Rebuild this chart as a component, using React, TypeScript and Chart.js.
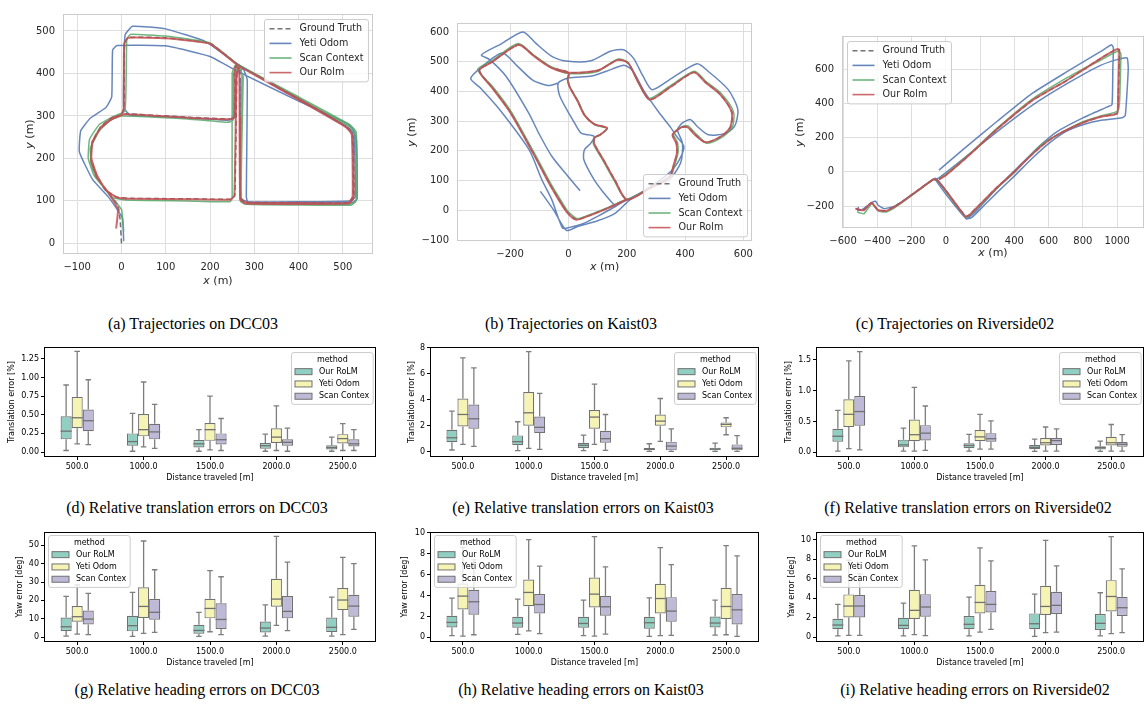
import React, { useEffect, useRef } from "react";
import { Chart, registerables } from "chart.js";
Chart.register(...registerables);

// ---------------- DATA ----------------
const TRAJ_SERIES = ["Ground Truth", "Yeti Odom", "Scan Context", "Our Rolm"];
const METHODS = ["Our RoLM", "Yeti Odom", "Scan Contex"];
const DISTANCES = ["500.0", "1000.0", "1500.0", "2000.0", "2500.0"];

// tick values
const dccXTicks = [-100, 0, 100, 200, 300, 400, 500];
const dccYTicks = [0, 100, 200, 300, 400, 500];
const kaistXTicks = [-200, 0, 200, 400, 600];
const kaistYTicks = [-100, 0, 100, 200, 300, 400, 500, 600];
const riverXTicks = [-600, -400, -200, 0, 200, 400, 600, 800, 1000];
const riverYTicks = [-200, 0, 200, 400, 600];

// DCC03 trajectories [x, y]
const dccGT = [[0,0],[-3,55],[-8,90],[-32,122],[-57,157],[-69,197],[-66,237],[-49,270],[-24,291],[1,304],[6,320],[7,471],[16,485],[100,484],[200,471],[263,421],[400,339],[506,276],[521,258],[523,110],[513,96],[400,96],[280,97],[269,108],[267,405],[259,418],[256,400],[256,298],[246,293],[150,297],[10,305],[-20,297],[-46,276],[-66,240],[-69,200],[-56,160],[-36,125],[-11,109],[20,106],[150,105],[246,104],[256,113],[261,400],[269,416],[401,340],[511,273],[523,253],[525,108],[515,95],[280,95],[269,105],[269,300]];
const dccYeti = [[5,5],[2,60],[-30,110],[-65,150],[-95,215],[-92,265],[-70,295],[-35,320],[-22,345],[-20,455],[-10,466],[100,465],[200,440],[262,405],[400,335],[510,282],[525,265],[528,110],[518,100],[400,98],[285,98],[282,110],[284,385],[275,410],[260,400],[255,295],[240,290],[150,296],[20,302],[5,320],[8,490],[25,511],[100,505],[190,475],[265,420],[400,340],[515,270],[530,250],[532,105],[520,95],[300,95],[270,105],[268,390]];
const dccScan = [[5,28],[0,80],[-35,125],[-62,160],[-75,200],[-72,245],[-50,280],[-20,298],[8,312],[12,480],[20,492],[100,488],[200,472],[265,420],[400,345],[515,280],[530,262],[532,105],[520,92],[400,92],[278,93],[268,100],[272,400],[265,415],[252,395],[252,290],[240,285],[150,293],[0,300],[-25,290],[-50,265],[-70,225],[-68,185],[-50,145],[-20,108],[10,102],[150,100],[245,98],[250,105],[250,400],[258,420],[400,343],[515,275],[528,258],[530,100],[518,90],[280,92],[270,100],[275,395]];
const dccRolm = [[-12,35],[-8,80],[-30,120],[-55,155],[-68,195],[-66,235],[-50,268],[-25,290],[0,303],[5,318],[6,470],[15,484],[100,483],[200,470],[262,420],[400,338],[505,275],[520,258],[522,110],[512,95],[400,95],[280,96],[268,108],[266,405],[258,418],[255,400],[255,298],[245,292],[150,296],[10,304],[-20,296],[-45,275],[-65,240],[-68,200],[-55,160],[-35,125],[-10,108],[20,105],[150,104],[245,103],[255,112],[260,400],[268,415],[400,340],[510,272],[522,252],[524,108],[514,94],[280,94],[268,104],[268,300]];

// Kaist03 trajectories
const kaistGT = [[-9,1],[-59,81],[-119,191],[-199,331],[-259,411],[-305,471],[-259,501],[-170,557],[-119,521],[-59,481],[1,463],[-2,440],[5,415],[31,370],[56,320],[89,290],[133,277],[110,255],[90,245],[88,225],[120,170],[160,100],[200,37],[280,76],[348,115],[361,150],[373,193],[371,225],[358,254],[386,278],[409,280],[431,258],[471,229],[526,250],[556,280],[561,330],[521,390],[471,430],[431,464],[350,415],[279,373],[240,430],[205,495],[170,506],[100,470],[1,463],[-59,481],[-119,521],[-170,557],[-259,501],[-305,471],[-259,411],[-199,331],[-119,191],[-59,81],[-9,1],[25,-30],[60,-21],[130,6],[200,37]];
const kaistYeti = [[-96,64],[-50,0],[-7,-67],[30,-55],[100,-35],[160,-10],[212,36],[300,85],[346,103],[385,160],[391,226],[374,271],[391,294],[419,305],[441,283],[480,254],[536,258],[570,283],[581,339],[548,406],[480,467],[441,493],[346,439],[287,406],[256,451],[223,512],[189,540],[144,535],[77,503],[0,501],[-57,518],[-113,563],[-156,600],[-230,560],[-298,523],[-270,507],[-214,451],[-136,327],[-102,260],[-57,182],[-1,114],[40,66],null,[161,13],[120,60],[88,103],[53,170],[55,204],[77,226],[88,249],[44,260],[21,294],[-29,383],[-35,428],[0,445],[80,452],[150,475],[190,488],[220,470],[260,400],[310,330],[350,280],[370,250],[396,215],[380,170],[346,126],[256,64],[190,30],[161,13],[100,-20],[50,-45],[0,-58],[-20,-60],[-57,36],[-91,103],[-135,204],[-236,339],[-300,410],[-335,443],[-300,480],[-227,529],[-175,485],[-124,439],[-70,420],[-35,428]];
const kaistScan = [[-6,2],[-56,82],[-117,193],[-197,333],[-258,414],[-311,474],[-262,503],[-173,561],[-120,523],[-60,483],[2,460],[-1,438],[6,413],[33,368],[57,318],[90,288],[132,275],[108,253],[88,243],[86,222],[118,168],[158,98],[198,38],[282,78],[352,118],[364,152],[376,195],[374,228],[360,257],[388,281],[410,284],[433,262],[475,226],[530,248],[562,280],[566,332],[524,393],[472,433],[432,468],[350,419],[276,376],[238,434],[203,499],[168,508],[100,467],[2,460],[-60,483],[-120,523],[-173,561],[-262,503],[-311,474],[-258,414],[-197,333],[-117,193],[-56,82],[-6,2],[30,-28],[62,-19],[132,8],[198,38]];
const kaistRolm = [[-10,0],[-60,80],[-120,190],[-200,330],[-260,410],[-306,470],[-260,500],[-171,557],[-120,520],[-60,480],[0,463],[-3,440],[4,415],[30,370],[55,320],[88,290],[133,277],[110,255],[90,245],[88,225],[120,170],[160,100],[200,36],[280,75],[348,114],[360,150],[372,193],[370,225],[357,254],[385,278],[408,280],[430,258],[470,229],[525,250],[555,280],[560,330],[520,390],[470,430],[430,464],[350,415],[279,372],[240,430],[205,495],[170,506],[100,470],[0,463],[-60,480],[-120,520],[-171,557],[-260,500],[-306,470],[-260,410],[-200,330],[-120,190],[-60,80],[-10,0],[25,-31],[60,-22],[130,5],[200,36]];

// Riverside02 trajectories
const riverGT = [[-526,-214],[-500,-221],[-480,-224],[-455,-199],[-433,-180],[-415,-199],[-398,-222],[-350,-227],[-300,-204],[-250,-171],[-150,-98],[-70,-42],[-50,-49],[0,-109],[60,-189],[117,-261],[140,-249],[200,-189],[300,-89],[400,1],[450,51],[553,147],[650,216],[796,286],[900,321],[1000,341],[1006,400],[1011,600],[1013,713],[996,715],[900,660],[796,592],[700,530],[505,417],[300,250],[150,110],[0,-19],[-40,-44]];
const riverYeti = [[-40,10],[100,130],[300,295],[500,455],[700,580],[900,700],[967,742],[978,725],[975,600],[970,392],[940,378],[800,315],[650,235],[540,145],[450,55],[300,-95],[180,-225],[120,-272],[80,-230],[0,-130],[-60,-45],[-40,-35],[100,75],[300,235],[500,385],[700,510],[900,620],[1000,655],[1058,665],[1065,600],[1048,330],[1030,316],[900,300],[800,275],[700,235],[600,165],[500,75],[400,-25],[300,-120],[220,-200],[150,-268],[120,-275],[80,-220],[0,-110],[-60,-38],[-150,-100],[-250,-170],[-300,-200],[-360,-215],[-395,-195],[-410,-172],[-430,-178],[-460,-200],[-490,-222],[-515,-225],[-510,-205]];
const riverScan = [[-518,-235],[-500,-240],[-478,-245],[-455,-215],[-430,-185],[-410,-210],[-390,-230],[-350,-235],[-300,-210],[-250,-175],[-150,-102],[-72,-47],[-50,-52],[0,-115],[60,-195],[117,-265],[140,-255],[200,-195],[300,-95],[400,-5],[460,60],[560,160],[660,220],[800,292],[900,325],[1005,355],[1015,420],[1020,600],[1022,690],[1005,705],[900,650],[800,600],[700,545],[505,425],[300,255],[150,115],[0,-15],[-40,-40]];
const riverRolm = [[-528,-215],[-500,-222],[-480,-225],[-455,-200],[-433,-181],[-415,-200],[-398,-223],[-350,-228],[-300,-205],[-250,-172],[-150,-99],[-70,-43],[-50,-50],[0,-110],[60,-190],[117,-262],[140,-250],[200,-190],[300,-90],[400,0],[450,50],[553,146],[650,215],[796,285],[900,320],[1000,340],[1005,400],[1010,600],[1012,713],[995,715],[900,660],[796,592],[700,530],[505,417],[300,250],[150,110],[0,-20],[-40,-45]];

// Box stats: [min, q1, median, q3, max] per distance
const dccTransRolm = [[0.02,0.17,0.28,0.48,0.90],[0.01,0.085,0.14,0.25,0.52],[0.01,0.06,0.11,0.16,0.30],[0.01,0.045,0.085,0.12,0.24],[0.01,0.035,0.06,0.09,0.20]];
const dccTransYeti = [[0.11,0.32,0.46,0.74,1.35],[0.07,0.21,0.30,0.51,0.94],[0.03,0.15,0.30,0.39,0.75],[0.02,0.12,0.20,0.32,0.62],[0.02,0.115,0.18,0.24,0.38]];
const dccTransScan = [[0.10,0.28,0.42,0.57,0.97],[0.05,0.17,0.27,0.38,0.64],[0.02,0.10,0.165,0.25,0.45],[0.01,0.085,0.13,0.17,0.32],[0.02,0.075,0.11,0.17,0.30]];

const kaistTransRolm = [[0.13,0.72,1.07,1.69,3.12],[0.08,0.49,0.77,1.25,2.30],[0.08,0.26,0.49,0.69,1.28],[0.03,0.10,0.18,0.28,0.61],[0.03,0.10,0.20,0.31,0.66]];
const kaistTransYeti = [[0.56,1.94,2.86,4.09,7.21],[0.26,2.0,2.99,4.58,7.70],[0.56,1.76,2.66,3.2,5.19],[0.79,2.0,2.35,2.86,4.09],[1.30,1.87,2.10,2.25,2.61]];
const kaistTransScan = [[0.41,1.76,2.53,3.63,6.44],[0.18,1.43,1.87,2.71,4.48],[0.10,0.69,1.0,1.61,2.86],[0.03,0.10,0.43,0.77,1.76],[0.03,0.10,0.26,0.56,1.23]];

const riverTransRolm = [[0.02,0.17,0.26,0.38,0.68],[0.02,0.08,0.12,0.205,0.39],[0.02,0.065,0.11,0.145,0.29],[0.015,0.05,0.08,0.12,0.215],[0.015,0.045,0.075,0.10,0.18]];
const riverTransYeti = [[0.06,0.41,0.615,0.86,1.48],[0.02,0.18,0.285,0.53,1.05],[0.05,0.18,0.25,0.36,0.615],[0.02,0.11,0.155,0.23,0.41],[0.02,0.11,0.155,0.25,0.45]];
const riverTransScan = [[0.04,0.43,0.66,0.91,1.63],[0.03,0.19,0.31,0.44,0.75],[0.05,0.17,0.22,0.31,0.51],[0.02,0.12,0.19,0.23,0.38],[0.02,0.09,0.13,0.165,0.285]];

const dccYawRolm = [[0.5,3.3,5.6,10.7,22.2],[0.4,3.1,6.2,11.6,24.4],[0.4,1.8,3.6,6.7,13.5],[0.5,2.5,4.9,8.5,17.6],[0.5,2.7,5.3,10.7,21.8]];
const dccYawYeti = [[1.6,8.4,11.1,16.9,28.4],[2.0,10.4,16.7,27.1,52.4],[2.9,10.2,15.6,20.9,36.2],[6.4,16.5,20.7,31.8,54.9],[1.3,14.7,20.2,26.7,43.5]];
const dccYawScan = [[1.3,6.9,9.8,14.5,23.8],[2.5,9.5,13.5,20.7,36.7],[1.3,4.4,9.6,18.4,32.9],[3.5,10.2,14.0,22.4,40.9],[4.2,11.1,16.9,23.1,40.0]];

const kaistYawRolm = [[0.16,0.95,1.43,2.06,3.75],[0.29,0.92,1.37,1.97,3.65],[0.16,0.92,1.33,1.97,3.56],[0.10,0.83,1.40,1.97,3.78],[0.22,0.95,1.37,2.0,3.56]];
const kaistYawYeti = [[0.13,2.67,3.94,5.14,8.6],[0.63,2.98,4.29,5.52,9.33],[0.13,2.86,4.13,5.71,9.62],[0.16,2.29,3.71,5.11,8.57],[0.25,1.75,2.95,4.73,8.76]];
const kaistYawScan = [[0.25,2.16,3.40,4.54,7.4],[0.35,2.29,3.14,4.13,6.8],[0.32,2.06,2.92,3.97,6.73],[0.19,1.49,2.51,3.84,6.95],[0.10,1.24,2.63,4.13,7.78]];

const riverYawRolm = [[0.14,0.82,1.26,1.90,3.37],[0.14,0.82,1.22,2.0,3.5],[0.14,0.82,1.33,2.18,4.12],[0.10,0.82,1.39,2.45,4.42],[0.14,0.75,1.43,2.38,4.56]];
const riverYawYeti = [[0.2,2.04,3.2,4.39,7.9],[0.27,1.87,2.76,4.86,9.35],[0.54,2.45,3.57,5.37,9.15],[0.48,2.28,3.16,5.27,9.93],[0.37,2.65,4.18,5.85,10.31]];
const riverYawScan = [[0.2,2.04,3.2,4.32,6.5],[0.17,2.11,3.1,4.42,7.93],[0.82,2.55,3.37,4.73,7.82],[0.54,2.38,3.27,4.66,7.31],[0.48,2.18,3.03,4.15,7.0]];

const transTicksDcc = [0, 0.25, 0.5, 0.75, 1.0, 1.25];
const transTicksKaist = [0, 2, 4, 6, 8];
const transTicksRiver = [0, 0.5, 1.0, 1.5];
const yawTicksDcc = [0, 10, 20, 30, 40, 50];
const yawTicksKaist = [0, 2, 4, 6, 8, 10];
const yawTicksRiver = [0, 2, 4, 6, 8, 10];

// ---------------- STYLE ----------------
const FONT = "'DejaVu Sans', sans-serif";
const TRAJ_COLORS = ["rgba(90,90,90,0.85)", "rgba(76,114,176,0.85)", "rgba(85,168,104,0.85)", "rgba(196,78,82,0.85)"];
const BOX_FILLS = ["#90cfc1", "#f6f4b5", "#bdb9d6"];
const BOX_EDGE = "#717171";

// ---------------- PLUGINS ----------------
function framePlugin(color: string, width: number) {
  return {
    id: "frame",
    afterDatasetsDraw(chart: any) {
      const { ctx, chartArea: a } = chart;
      ctx.save();
      ctx.strokeStyle = color;
      ctx.lineWidth = width;
      ctx.strokeRect(Math.round(a.left) + 0.5, Math.round(a.top) + 0.5, Math.round(a.right - a.left) - 1, Math.round(a.bottom - a.top) - 1);
      ctx.restore();
    },
  };
}

function whiskerPlugin() {
  return {
    id: "whiskers",
    afterDatasetsDraw(chart: any) {
      const { ctx } = chart;
      const ys = chart.scales.y;
      chart.data.datasets.forEach((ds: any, di: number) => {
        const meta = chart.getDatasetMeta(di);
        meta.data.forEach((bar: any, i: number) => {
          const s = ds.stats[i];
          const x = bar.x;
          const w = bar.width;
          const yMin = ys.getPixelForValue(s[0]);
          const yQ1 = ys.getPixelForValue(s[1]);
          const yMed = ys.getPixelForValue(s[2]);
          const yQ3 = ys.getPixelForValue(s[3]);
          const yMax = ys.getPixelForValue(s[4]);
          ctx.save();
          ctx.strokeStyle = "rgba(112,112,112,0.9)";
          ctx.lineWidth = 1.3;
          ctx.beginPath();
          ctx.moveTo(x, yQ3); ctx.lineTo(x, yMax);
          ctx.moveTo(x - w / 4, yMax); ctx.lineTo(x + w / 4, yMax);
          ctx.moveTo(x, yQ1); ctx.lineTo(x, yMin);
          ctx.moveTo(x - w / 4, yMin); ctx.lineTo(x + w / 4, yMin);
          ctx.stroke();
          ctx.strokeStyle = BOX_EDGE;
          ctx.beginPath();
          ctx.moveTo(x - w / 2, yMed); ctx.lineTo(x + w / 2, yMed);
          ctx.stroke();
          ctx.restore();
        });
      });
    },
  };
}

type LegendOpts = {
  corner: "tl" | "tr" | "br";
  mx: number; my: number;
  fontSize: number; color: string;
  title?: string; titleH?: number;
  padL: number; padR: number; padT: number; padB: number;
  symW: number; symH?: number; gap: number; rowH: number;
  kind: "line" | "patch";
};

function legendPlugin(o: LegendOpts) {
  return {
    id: "customLegend",
    afterDraw(chart: any) {
      const { ctx, chartArea: a } = chart;
      const dss = chart.data.datasets.filter((d: any) => !d.hideLegend);
      ctx.save();
      ctx.font = `${o.fontSize}px ${FONT}`;
      let tw = 0;
      dss.forEach((d: any) => { tw = Math.max(tw, ctx.measureText(d.label).width); });
      if (o.title) tw = Math.max(tw, ctx.measureText(o.title).width - o.symW - o.gap);
      const w = o.padL + o.symW + o.gap + tw + o.padR;
      const th = o.title ? o.titleH || 0 : 0;
      const h = o.padT + th + dss.length * o.rowH + o.padB;
      let x = o.corner === "tl" ? a.left + o.mx : a.right - o.mx - w;
      let y = o.corner === "br" ? a.bottom - o.my - h : a.top + o.my;
      x = Math.round(x) + 0.5; y = Math.round(y) + 0.5;
      const r = 2.5;
      ctx.beginPath();
      ctx.moveTo(x + r, y);
      ctx.arcTo(x + w, y, x + w, y + h, r);
      ctx.arcTo(x + w, y + h, x, y + h, r);
      ctx.arcTo(x, y + h, x, y, r);
      ctx.arcTo(x, y, x + w, y, r);
      ctx.closePath();
      ctx.fillStyle = "rgba(255,255,255,0.8)";
      ctx.fill();
      ctx.strokeStyle = "#cccccc";
      ctx.lineWidth = 1;
      ctx.stroke();
      ctx.textBaseline = "middle";
      ctx.fillStyle = o.color;
      if (o.title) {
        ctx.textAlign = "center";
        ctx.fillText(o.title, x + w / 2, y + o.padT + th / 2);
      }
      ctx.textAlign = "left";
      dss.forEach((d: any, i: number) => {
        const cy = y + o.padT + th + (i + 0.5) * o.rowH;
        const sx = x + o.padL;
        if (o.kind === "line") {
          ctx.save();
          ctx.strokeStyle = d.borderColor;
          ctx.lineWidth = 1.6;
          ctx.setLineDash(d.borderDash || []);
          ctx.beginPath();
          ctx.moveTo(sx, cy); ctx.lineTo(sx + o.symW, cy);
          ctx.stroke();
          ctx.restore();
        } else {
          const ph = o.symH || 6;
          ctx.fillStyle = d.backgroundColor;
          ctx.fillRect(sx, cy - ph / 2, o.symW, ph);
          ctx.strokeStyle = BOX_EDGE;
          ctx.lineWidth = 1;
          ctx.strokeRect(sx, cy - ph / 2, o.symW, ph);
        }
        ctx.fillStyle = o.color;
        ctx.fillText(d.label, sx + o.symW + o.gap, cy);
      });
      ctx.restore();
    },
  };
}

type TitlePart = { text: string; italic?: boolean };
function axisTitlePlugin(xParts: TitlePart[], yParts: TitlePart[], xOff: number, yOff: number, size: number, color: string) {
  const drawParts = (ctx: any, parts: TitlePart[], cx: number, cy: number) => {
    const widths = parts.map((p) => {
      ctx.font = `${p.italic ? "italic " : ""}${size}px ${FONT}`;
      return ctx.measureText(p.text).width;
    });
    const total = widths.reduce((s, v) => s + v, 0);
    let x = cx - total / 2;
    parts.forEach((p, i) => {
      ctx.font = `${p.italic ? "italic " : ""}${size}px ${FONT}`;
      ctx.fillText(p.text, x, cy);
      x += widths[i];
    });
  };
  return {
    id: "axisTitles",
    afterDraw(chart: any) {
      const { ctx, chartArea: a } = chart;
      ctx.save();
      ctx.fillStyle = color;
      ctx.textBaseline = "middle";
      ctx.textAlign = "left";
      drawParts(ctx, xParts, (a.left + a.right) / 2, a.bottom + xOff);
      ctx.translate(a.left - yOff, (a.top + a.bottom) / 2);
      ctx.rotate(-Math.PI / 2);
      drawParts(ctx, yParts, 0, 0);
      ctx.restore();
    },
  };
}

// ---------------- CONFIG BUILDERS ----------------
const toPts = (arr: any[]) => arr.map((p) => (p ? { x: p[0], y: p[1] } : { x: null, y: null }));

function trajConfig(p: any) {
  const series = [p.gt, p.yeti, p.scan, p.rolm];
  return {
    type: "scatter",
    data: {
      datasets: series.map((s: any, i: number) => ({
        label: TRAJ_SERIES[i],
        data: toPts(s),
        showLine: true,
        borderColor: TRAJ_COLORS[i],
        backgroundColor: TRAJ_COLORS[i],
        borderWidth: i === 3 ? 2 : 1.5,
        borderDash: i === 0 ? [5, 3] : [],
        pointRadius: 0,
        tension: p.tension,
        spanGaps: false,
        order: 4 - i,
      })),
    },
    options: {
      responsive: false,
      animation: false,
      events: [],
      layout: { autoPadding: false, padding: { left: 0, right: p.padR, top: p.padT, bottom: 0 } },
      plugins: { legend: { display: false }, tooltip: { enabled: false } },
      scales: {
        x: {
          type: "linear", min: p.xMin, max: p.xMax,
          afterBuildTicks: (s: any) => { s.ticks = p.xTicks.map((v: number) => ({ value: v })); },
          afterFit: (s: any) => { s.height = p.xH; },
          grid: { color: "#dedede", lineWidth: 1, drawTicks: false },
          border: { display: false },
          ticks: { color: "#262626", font: { family: FONT, size: 10 }, padding: 7, maxRotation: 0, autoSkip: false, callback: (v: any) => String(v).replace("-", "\u2212") },
        },
        y: {
          type: "linear", min: p.yMin, max: p.yMax,
          afterBuildTicks: (s: any) => { s.ticks = p.yTicks.map((v: number) => ({ value: v })); },
          afterFit: (s: any) => { s.width = p.yW; },
          grid: { color: "#dedede", lineWidth: 1, drawTicks: false },
          border: { display: false },
          ticks: { color: "#262626", font: { family: FONT, size: 10 }, padding: 8, autoSkip: false, callback: (v: any) => String(v).replace("-", "\u2212") },
        },
      },
    },
    plugins: [
      framePlugin("#cccccc", 1),
      axisTitlePlugin([{ text: "x", italic: true }, { text: " (m)" }], [{ text: "y", italic: true }, { text: " (m)" }], p.xTitleOff, p.yTitleOff, 11, "#262626"),
      legendPlugin({ corner: p.legendCorner, mx: 5, my: 5, fontSize: 9.6, color: "#262626", padL: 5, padR: 5, padT: 2, padB: 2, symW: 22, gap: 8, rowH: 14.6, kind: "line" }),
    ],
  };
}

function boxConfig(p: any) {
  const stats = [p.rolm, p.yeti, p.scan];
  return {
    type: "bar",
    data: {
      labels: DISTANCES,
      datasets: stats.map((s: any, i: number) => ({
        label: METHODS[i],
        data: s.map((r: number[]) => [r[1], r[3]]),
        stats: s,
        backgroundColor: BOX_FILLS[i],
        borderColor: BOX_EDGE,
        borderWidth: 1.2,
        borderSkipped: false,
        categoryPercentage: 0.5,
        barPercentage: 1.0,
      })),
    },
    options: {
      responsive: false,
      animation: false,
      events: [],
      layout: { autoPadding: false, padding: { left: 0, right: p.padR, top: p.padT, bottom: 0 } },
      plugins: { legend: { display: false }, tooltip: { enabled: false } },
      scales: {
        x: {
          type: "category",
          afterFit: (s: any) => { s.height = p.xH; },
          grid: { display: true, drawOnChartArea: false, drawTicks: true, tickLength: 3, color: "#000", offset: false },
          border: { display: false },
          ticks: { color: "#000", font: { family: FONT, size: 8 }, padding: 2, maxRotation: 0, autoSkip: false },
        },
        y: {
          type: "linear", min: p.yMin, max: p.yMax,
          afterBuildTicks: (s: any) => { s.ticks = p.yTicks.map((v: number) => ({ value: v })); },
          afterFit: (s: any) => { s.width = p.yW; },
          grid: { display: true, drawOnChartArea: false, drawTicks: true, tickLength: 3, color: "#000" },
          border: { display: false },
          ticks: { color: "#000", font: { family: FONT, size: 8 }, padding: 2, autoSkip: false, callback: (v: any) => Number(v).toFixed(p.dec) },
        },
      },
    },
    plugins: [
      whiskerPlugin(),
      framePlugin("#000000", 1),
      axisTitlePlugin([{ text: "Distance traveled [m]" }], [{ text: p.yTitle }], 21, p.yTitleOff, 8, "#000"),
      legendPlugin({ corner: p.legendCorner, mx: p.legendMx, my: p.legendMy, fontSize: 8, color: "#000", title: "method", titleH: 12, padL: 3.5, padR: 4, padT: 1, padB: 2, symW: 17, symH: 6, gap: 7, rowH: 12.3, kind: "patch" }),
    ],
  };
}

// ---------------- COMPONENTS ----------------
function ChartBox({ left, top, width, height, config }: any) {
  const ref = useRef<HTMLCanvasElement | null>(null);
  useEffect(() => {
    const chart = new Chart(ref.current as any, config as any);
    return () => chart.destroy();
  }, []);
  return (
    <div style={{ position: "absolute", left, top, width, height }}>
      <canvas ref={ref} width={width} height={height} style={{ display: "block", width, height }} />
    </div>
  );
}

function Caption({ x, y, text }: any) {
  return (
    <div style={{ position: "absolute", left: x, top: y, transform: "translateX(-50%)", whiteSpace: "nowrap", fontFamily: "'Liberation Serif', 'Times New Roman', serif", fontSize: 16, lineHeight: "18px", color: "#000" }}>
      {text}
    </div>
  );
}

const cfgA = trajConfig({ gt: dccGT, yeti: dccYeti, scan: dccScan, rolm: dccRolm, tension: 0.12, xMin: -132, xMax: 568, yMin: -25, yMax: 540, xTicks: dccXTicks, yTicks: dccYTicks, padR: 7, padT: 2, xH: 36, yW: 63, xTitleOff: 27, yTitleOff: 33, legendCorner: "tr" });
const cfgB = trajConfig({ gt: kaistGT, yeti: kaistYeti, scan: kaistScan, rolm: kaistRolm, tension: 0.25, xMin: -382, xMax: 630, yMin: -103, yMax: 630, xTicks: kaistXTicks, yTicks: kaistYTicks, padR: 2, padT: 23, xH: 49, yW: 77, xTitleOff: 26, yTitleOff: 45, legendCorner: "br" });
const cfgC = trajConfig({ gt: riverGT, yeti: riverYeti, scan: riverScan, rolm: riverRolm, tension: 0.15, xMin: -606, xMax: 1157, yMin: -328, yMax: 793, xTicks: riverXTicks, yTicks: riverYTicks, padR: 1, padT: 36, xH: 62, yW: 82, xTitleOff: 25, yTitleOff: 42, legendCorner: "tl" });

const cfgD = boxConfig({ rolm: dccTransRolm, yeti: dccTransYeti, scan: dccTransScan, yMin: -0.067, yMax: 1.41, yTicks: transTicksDcc, dec: 2, padR: 4, padT: 12, xH: 38, yW: 44, yTitle: "Translation error [%]", yTitleOff: 32, legendCorner: "tr", legendMx: 3, legendMy: 5 });
const cfgE = boxConfig({ rolm: kaistTransRolm, yeti: kaistTransYeti, scan: kaistTransScan, yMin: -0.41, yMax: 8.05, yTicks: transTicksKaist, dec: 0, padR: 1, padT: 12, xH: 38, yW: 50, yTitle: "Translation error [%]", yTitleOff: 18, legendCorner: "tr", legendMx: 3, legendMy: 5 });
const cfgF = boxConfig({ rolm: riverTransRolm, yeti: riverTransYeti, scan: riverTransScan, yMin: -0.076, yMax: 1.705, yTicks: transTicksRiver, dec: 1, padR: 1, padT: 12, xH: 38, yW: 56, yTitle: "Translation error [%]", yTitleOff: 27, legendCorner: "tr", legendMx: 3, legendMy: 5 });
const cfgG = boxConfig({ rolm: dccYawRolm, yeti: dccYawYeti, scan: dccYawScan, yMin: -2.7, yMax: 57.3, yTicks: yawTicksDcc, dec: 0, padR: 4, padT: 12, xH: 38, yW: 44, yTitle: "Yaw error [deg]", yTitleOff: 24, legendCorner: "tl", legendMx: 4, legendMy: 3 });
const cfgH = boxConfig({ rolm: kaistYawRolm, yeti: kaistYawYeti, scan: kaistYawScan, yMin: -0.44, yMax: 10.06, yTicks: yawTicksKaist, dec: 0, padR: 1, padT: 12, xH: 38, yW: 50, yTitle: "Yaw error [deg]", yTitleOff: 25, legendCorner: "tl", legendMx: 4, legendMy: 3 });
const cfgI = boxConfig({ rolm: riverYawRolm, yeti: riverYawYeti, scan: riverYawScan, yMin: -0.48, yMax: 10.78, yTicks: yawTicksRiver, dec: 0, padR: 1, padT: 12, xH: 38, yW: 56, yTitle: "Yaw error [deg]", yTitleOff: 24, legendCorner: "tl", legendMx: 4, legendMy: 3 });

export default function App() {
  return (
    <div style={{ position: "absolute", left: 0, top: 0, width: 1145, height: 708, background: "#fff", overflow: "hidden" }}>
      <ChartBox left={0} top={0} width={380} height={290} config={cfgA} />
      <ChartBox left={380} top={0} width={380} height={290} config={cfgB} />
      <ChartBox left={760} top={0} width={385} height={290} config={cfgC} />
      <ChartBox left={0} top={335} width={380} height={160} config={cfgD} />
      <ChartBox left={380} top={335} width={380} height={160} config={cfgE} />
      <ChartBox left={760} top={335} width={385} height={160} config={cfgF} />
      <ChartBox left={0} top={520} width={380} height={160} config={cfgG} />
      <ChartBox left={380} top={520} width={380} height={160} config={cfgH} />
      <ChartBox left={760} top={520} width={385} height={160} config={cfgI} />
      <Caption x={193} y={315} text="(a) Trajectories on DCC03" />
      <Caption x={571} y={315} text="(b) Trajectories on Kaist03" />
      <Caption x={955} y={315} text="(c) Trajectories on Riverside02" />
      <Caption x={197} y={499} text="(d) Relative translation errors on DCC03" />
      <Caption x={583} y={499} text="(e) Relative translation errors on Kaist03" />
      <Caption x={968} y={499} text="(f) Relative translation errors on Riverside02" />
      <Caption x={197} y={681} text="(g) Relative heading errors on DCC03" />
      <Caption x={581} y={681} text="(h) Relative heading errors on Kaist03" />
      <Caption x={975} y={681} text="(i) Relative heading errors on Riverside02" />
    </div>
  );
}
